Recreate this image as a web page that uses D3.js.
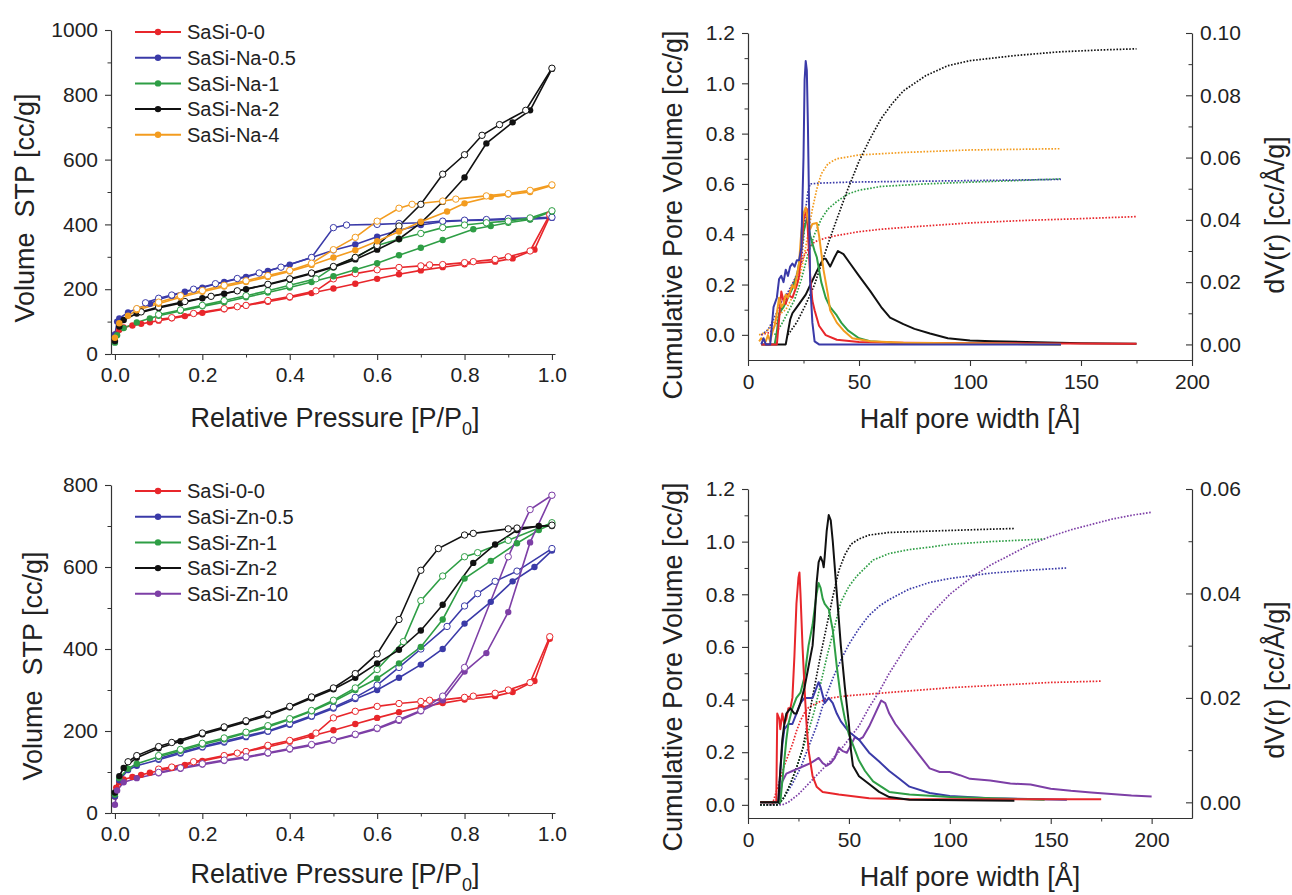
<!DOCTYPE html>
<html>
<head>
<meta charset="utf-8">
<script src="https://cdn.jsdelivr.net/npm/d3@7"></script>
<style>
  body { margin: 0; background: #fff; }
  svg { display: block; }
  text { font-family: Arial, "Liberation Sans", sans-serif; fill: #222; }
</style>
</head>
<body>
<svg id="chart" width="1292" height="895"></svg>
<script>
// ---------------------------------------------------------------------------
// Data
// ---------------------------------------------------------------------------
const naNames = ["SaSi-0-0", "SaSi-Na-0.5", "SaSi-Na-1", "SaSi-Na-2", "SaSi-Na-4"];
const znNames = ["SaSi-0-0", "SaSi-Zn-0.5", "SaSi-Zn-1", "SaSi-Zn-2", "SaSi-Zn-10"];

// isotherms: [P/P0, V (cc/g)], adsorption = filled, desorption = open
const ref00Ads = [[0,40],[0.003,62],[0.01,75],[0.02,82],[0.04,88],[0.06,93],[0.08,98],[0.1,103],[0.13,110],[0.16,117],[0.2,127],[0.25,138],[0.3,150],[0.35,161],[0.4,174],[0.45,188],[0.5,202],[0.55,217],[0.6,232],[0.65,246],[0.7,258],[0.75,268],[0.8,277],[0.87,285],[0.91,295],[0.96,322],[0.995,425]];
const ref00Des = [[0.995,430],[0.95,318],[0.9,300],[0.87,292],[0.82,285],[0.8,282],[0.75,276],[0.72,275],[0.7,272],[0.65,267],[0.6,260],[0.55,248],[0.5,232],[0.46,195],[0.4,177],[0.35,165],[0.3,150],[0.28,146],[0.25,140],[0.18,125],[0.13,112],[0.1,107]];

const na05Ads = [[0,60],[0.005,100],[0.01,110],[0.03,128],[0.05,140],[0.08,155],[0.1,168],[0.13,180],[0.16,192],[0.2,205],[0.25,222],[0.3,238],[0.35,256],[0.4,276],[0.45,298],[0.5,320],[0.55,338],[0.6,362],[0.65,382],[0.7,398],[0.75,408],[0.8,412],[0.85,413],[0.9,415],[0.95,416],[1.0,420]];
const na05Des = [[1.0,422],[0.9,418],[0.85,415],[0.8,413],[0.75,410],[0.7,405],[0.65,403],[0.6,400],[0.53,398],[0.5,390],[0.45,298],[0.38,268],[0.33,250],[0.28,233],[0.23,217],[0.18,200],[0.13,182],[0.1,172],[0.07,158]];

const na1Ads = [[0,35],[0.005,58],[0.02,80],[0.05,97],[0.08,110],[0.1,118],[0.15,133],[0.2,147],[0.25,160],[0.3,175],[0.35,190],[0.4,205],[0.45,222],[0.5,240],[0.55,260],[0.6,280],[0.65,305],[0.7,328],[0.75,352],[0.82,385],[0.86,395],[0.9,405],[0.95,415],[1.0,440]];
const na1Des = [[1.0,442],[0.95,420],[0.9,410],[0.85,405],[0.8,398],[0.75,390],[0.7,372],[0.65,355],[0.6,335],[0.55,298],[0.5,268],[0.46,232],[0.4,212],[0.35,195],[0.3,180],[0.25,165],[0.2,150],[0.15,136],[0.1,122]];

const na2Ads = [[0,40],[0.01,85],[0.02,105],[0.05,125],[0.1,142],[0.15,157],[0.2,172],[0.25,186],[0.3,200],[0.35,214],[0.4,230],[0.45,248],[0.5,268],[0.55,292],[0.6,322],[0.65,355],[0.7,405],[0.75,470],[0.8,545],[0.85,650],[0.91,715],[0.95,752],[1.0,880]];
const na2Des = [[1.0,882],[0.94,752],[0.88,708],[0.84,675],[0.8,615],[0.75,555],[0.7,462],[0.65,395],[0.6,335],[0.55,298],[0.5,270],[0.45,250],[0.4,232],[0.35,215],[0.28,195],[0.22,178],[0.16,162],[0.1,145],[0.06,130]];

const na4Ads = [[0,50],[0.01,95],[0.03,118],[0.05,135],[0.1,155],[0.15,175],[0.2,192],[0.25,208],[0.3,222],[0.35,238],[0.4,255],[0.45,275],[0.5,298],[0.55,320],[0.6,348],[0.65,378],[0.7,408],[0.76,440],[0.8,465],[0.86,485],[0.9,492],[0.95,500],[1.0,520]];
const na4Des = [[1.0,522],[0.95,505],[0.9,495],[0.85,488],[0.78,478],[0.75,472],[0.68,462],[0.65,450],[0.6,410],[0.55,360],[0.5,322],[0.45,280],[0.4,258],[0.35,242],[0.3,226],[0.25,212],[0.2,196],[0.15,180],[0.1,160],[0.05,140]];

const zn05Ads = [[0,40],[0.01,80],[0.03,105],[0.05,115],[0.1,130],[0.15,145],[0.2,160],[0.25,172],[0.3,185],[0.35,198],[0.4,215],[0.45,235],[0.5,255],[0.55,278],[0.6,300],[0.65,330],[0.7,362],[0.75,400],[0.8,462],[0.86,515],[0.91,565],[0.96,600],[1.0,640]];
const zn05Des = [[1.0,645],[0.92,590],[0.87,565],[0.83,535],[0.8,505],[0.76,455],[0.7,400],[0.65,355],[0.6,312],[0.55,282],[0.5,258],[0.45,237],[0.4,218],[0.35,200],[0.3,188],[0.25,175],[0.2,162],[0.15,148],[0.1,133]];

const zn1Ads = [[0,45],[0.01,85],[0.03,108],[0.05,120],[0.1,137],[0.15,152],[0.2,167],[0.25,180],[0.3,195],[0.35,210],[0.4,228],[0.45,248],[0.5,272],[0.55,300],[0.6,328],[0.65,365],[0.7,405],[0.75,472],[0.8,572],[0.86,615],[0.92,658],[0.97,690],[1.0,705]];
const zn1Des = [[1.0,708],[0.9,665],[0.83,635],[0.8,625],[0.75,578],[0.7,518],[0.66,418],[0.6,350],[0.55,305],[0.5,275],[0.45,250],[0.4,230],[0.35,213],[0.3,197],[0.25,183],[0.2,170],[0.15,155],[0.1,140]];

const zn2Ads = [[0,50],[0.01,90],[0.02,110],[0.05,135],[0.1,158],[0.15,175],[0.2,192],[0.25,207],[0.3,222],[0.35,238],[0.4,258],[0.45,280],[0.5,302],[0.55,330],[0.6,365],[0.65,398],[0.7,445],[0.75,508],[0.82,610],[0.87,655],[0.92,690],[0.97,700],[1.0,700]];
const zn2Des = [[1.0,702],[0.92,695],[0.9,693],[0.82,682],[0.8,678],[0.74,645],[0.7,592],[0.65,472],[0.6,388],[0.55,340],[0.5,305],[0.45,283],[0.4,260],[0.35,241],[0.3,225],[0.25,210],[0.2,195],[0.13,172],[0.1,162],[0.05,140],[0.03,125]];

const zn10Ads = [[0,20],[0.005,55],[0.02,75],[0.05,85],[0.1,97],[0.15,108],[0.2,118],[0.25,127],[0.3,135],[0.35,145],[0.4,155],[0.45,165],[0.5,177],[0.55,190],[0.6,205],[0.65,225],[0.7,248],[0.75,275],[0.8,345],[0.85,390],[0.9,490],[0.95,660],[1.0,775]];
const zn10Des = [[1.0,775],[0.95,740],[0.9,625],[0.8,355],[0.75,285],[0.7,250],[0.65,228],[0.6,207],[0.55,192],[0.5,178],[0.45,167],[0.4,157],[0.35,147],[0.3,137],[0.25,129],[0.2,120],[0.15,110],[0.1,99]];

// pore size distributions: [half pore width (Å), value]
// cumulative volume (cc/g, left axis, dotted)
const naRedCum = [[6,0],[10,0.01],[13,0.05],[15,0.1],[18,0.16],[20,0.2],[23,0.26],[25,0.31],[27,0.34],[30,0.37],[35,0.385],[40,0.395],[50,0.41],[60,0.42],[75,0.43],[100,0.445],[125,0.455],[150,0.462],[175,0.47]];
const naBlueCum = [[6,0],[9,0.02],[12,0.07],[15,0.13],[18,0.17],[21,0.22],[24,0.29],[25,0.38],[26,0.5],[27,0.57],[28,0.6],[32,0.603],[45,0.607],[70,0.61],[100,0.613],[141,0.618]];
const naGreenCum = [[12,0],[15,0.04],[18,0.09],[21,0.14],[24,0.22],[27,0.32],[30,0.4],[33,0.46],[36,0.5],[40,0.53],[45,0.56],[50,0.575],[60,0.59],[80,0.6],[100,0.607],[120,0.613],[141,0.62]];
const naBlackCum = [[18,0],[22,0.05],[26,0.12],[30,0.2],[33,0.28],[36,0.36],[40,0.46],[45,0.58],[50,0.69],[55,0.78],[60,0.86],[65,0.92],[70,0.97],[80,1.03],[90,1.07],[100,1.09],[120,1.11],[140,1.125],[160,1.133],[175,1.137]];
const naOrangeCum = [[5,0],[8,0.01],[11,0.04],[14,0.08],[17,0.1],[20,0.15],[23,0.22],[25,0.3],[27,0.4],[29,0.5],[31,0.58],[33,0.64],[36,0.68],[40,0.7],[50,0.715],[70,0.725],[100,0.735],[141,0.74]];

// dV(r) (cc/Å/g, right axis, solid)
const naRedDv = [[6,0],[13,0],[14,0.008],[15,0.017],[16,0.014],[17,0.013],[18,0.016],[20,0.015],[22,0.019],[23,0.022],[24,0.03],[25,0.04],[26.5,0.0435],[27,0.036],[28,0.022],[29,0.014],[30,0.011],[32,0.006],[35,0.003],[40,0.0015],[50,0.0008],[70,0.0005],[100,0.0004],[140,0.0003],[175,0.0002]];
const naBlueDv = [[6,0],[7,0.002],[8,0],[10,0],[11,0.008],[11.5,0.012],[13,0.015],[14,0.021],[15,0.022],[16,0.02],[17,0.024],[18,0.022],[19,0.025],[20,0.026],[21,0.025],[22,0.027],[23,0.027],[24,0.031],[25,0.06],[25.5,0.085],[26,0.091],[26.5,0.088],[27,0.07],[27.5,0.045],[28,0.02],[29,0.007],[30,0.001],[32,0],[141,0]];
const naGreenDv = [[12,0],[13,0.004],[14,0.01],[16,0.012],[18,0.015],[20,0.018],[22,0.022],[24,0.03],[25,0.036],[26.5,0.0405],[27,0.039],[28,0.035],[30,0.03],[31,0.028],[33,0.02],[35,0.015],[37,0.012],[40,0.0093],[42,0.007],[45,0.0045],[50,0.002],[55,0.001],[65,0.0005],[141,0]];
const naOrangeDv = [[5,0.001],[6,0.002],[8,0.001],[9,0.003],[10,0.001],[11,0.004],[12,0.006],[13,0.01],[14,0.015],[15,0.012],[16,0.013],[17,0.016],[18,0.015],[19,0.017],[20,0.019],[21,0.018],[22,0.022],[23,0.026],[24,0.036],[25,0.042],[26,0.044],[27,0.04],[28,0.037],[29,0.0387],[31,0.039],[32,0.035],[34,0.024],[36,0.016],[37,0.011],[40,0.007],[43,0.0045],[47,0.002],[55,0.001],[70,0.0005],[141,0]];
const naBlackDv = [[6,0],[17,0],[18,0.004],[19,0.008],[20,0.01],[22,0.012],[24,0.014],[26,0.016],[28,0.019],[30,0.022],[32,0.025],[34,0.0275],[35,0.0275],[37,0.025],[39,0.028],[40.5,0.03],[43,0.029],[46,0.026],[50,0.022],[55,0.0172],[60,0.012],[64,0.0086],[70,0.0065],[75,0.005],[82,0.0035],[90,0.002],[100,0.0013],[110,0.001],[130,0.0007],[150,0.0004],[175,0.0002]];

const znRedCum = [[6,0],[12,0],[14,0.05],[16,0.1],[18,0.15],[20,0.19],[22,0.23],[24,0.28],[26,0.32],[28,0.35],[30,0.37],[35,0.39],[40,0.405],[50,0.415],[75,0.43],[100,0.445],[125,0.455],[150,0.465],[175,0.47]];
const znBlueCum = [[6,0],[15,0],[18,0.03],[22,0.08],[26,0.14],[30,0.22],[34,0.3],[38,0.4],[42,0.48],[46,0.55],[50,0.61],[55,0.67],[60,0.72],[65,0.755],[70,0.78],[80,0.82],[90,0.845],[100,0.86],[120,0.88],[140,0.892],[158,0.9]];
const znGreenCum = [[6,0],[15,0],[18,0.03],[21,0.08],[24,0.14],[27,0.21],[30,0.28],[33,0.36],[36,0.46],[39,0.56],[42,0.65],[46,0.77],[50,0.83],[54,0.87],[58,0.9],[62,0.93],[70,0.955],[80,0.97],[91,0.98],[100,0.99],[120,1.0],[147,1.01]];
const znBlackCum = [[6,0],[15,0],[18,0.03],[21,0.08],[24,0.14],[27,0.21],[30,0.33],[33,0.45],[36,0.57],[39,0.68],[42,0.79],[45,0.89],[48,0.95],[51,0.99],[55,1.01],[60,1.025],[70,1.035],[90,1.04],[110,1.045],[132,1.05]];
const znPurpleCum = [[6,0],[17,0],[20,0.01],[25,0.04],[30,0.08],[35,0.12],[40,0.16],[45,0.2],[50,0.25],[55,0.3],[60,0.37],[65,0.43],[70,0.5],[75,0.56],[80,0.62],[90,0.72],[100,0.8],[110,0.86],[120,0.91],[130,0.95],[140,0.99],[150,1.02],[160,1.045],[170,1.065],[180,1.085],[190,1.1],[200,1.112]];

const znRedDv = [[6,0],[14,0],[14.5,0.017],[15.5,0.016],[16,0.014],[17,0.017],[18,0.015],[19,0.016],[20,0.018],[21,0.018],[22,0.02],[23,0.028],[24,0.038],[25,0.043],[25.5,0.044],[26,0.04],[27,0.03],[28,0.022],[29,0.015],[30,0.01],[32,0.005],[34,0.003],[37,0.002],[45,0.0015],[60,0.0008],[80,0.0006],[175,0.0006]];
const znBlueDv = [[6,0],[15,0],[16,0.006],[17,0.011],[18,0.014],[20,0.015],[22,0.015],[24,0.017],[26,0.019],[28,0.02],[30,0.02],[32,0.02],[34,0.022],[35,0.023],[36,0.022],[38,0.019],[40,0.02],[42,0.019],[44,0.017],[46,0.0155],[50,0.0135],[55,0.012],[60,0.0095],[65,0.0078],[70,0.006],[75,0.0045],[80,0.003],[90,0.0018],[100,0.0012],[120,0.0008],[158,0.0005]];
const znGreenDv = [[6,0],[16,0],[17,0.004],[18,0.008],[19,0.012],[20,0.015],[22,0.018],[24,0.02],[26,0.021],[28,0.024],[30,0.03],[32,0.034],[34,0.04],[35,0.042],[36,0.041],[37,0.039],[38,0.038],[40,0.037],[42,0.033],[44,0.026],[46,0.02],[48,0.016],[50,0.013],[52,0.011],[55,0.008],[58,0.006],[62,0.004],[66,0.003],[70,0.002],[80,0.0015],[100,0.001],[147,0.0005]];
const znBlackDv = [[6,0],[15,0],[16,0.006],[17,0.012],[18,0.015],[19,0.017],[21,0.018],[23,0.017],[24,0.017],[26,0.019],[28,0.022],[30,0.026],[32,0.03],[33,0.035],[34,0.042],[35,0.046],[36,0.047],[37,0.046],[37.5,0.045],[38,0.047],[39,0.052],[40,0.055],[41,0.054],[42,0.05],[44,0.04],[46,0.03],[48,0.022],[50,0.015],[51,0.01],[52,0.007],[55,0.005],[60,0.0035],[65,0.002],[70,0.001],[80,0.0005],[132,0.0003]];
const znPurpleDv = [[6,0],[15,0],[17,0.004],[19,0.0055],[22,0.006],[25,0.0065],[28,0.007],[31,0.0075],[33,0.008],[35,0.0085],[37,0.0075],[39,0.007],[41,0.0075],[43,0.0085],[45,0.0105],[47,0.0098],[49,0.0095],[51,0.011],[53,0.0125],[55,0.012],[57,0.0125],[60,0.0145],[63,0.017],[66,0.0195],[68,0.019],[70,0.017],[73,0.015],[76,0.0135],[80,0.0115],[85,0.009],[90,0.0065],[95,0.0058],[100,0.0058],[105,0.0052],[110,0.0045],[120,0.0042],[130,0.0036],[140,0.0034],[150,0.0026],[160,0.0022],[170,0.0019],[180,0.0016],[190,0.0013],[200,0.0011]];

// tick values
const isoXTicks = [0, 0.2, 0.4, 0.6, 0.8, 1.0];
const isoXMinor = [0.1, 0.3, 0.5, 0.7, 0.9];
const psdXTicks = [0, 50, 100, 150, 200];
const psdXMinor = [25, 75, 125, 175];
const cumTicks = [0, 0.2, 0.4, 0.6, 0.8, 1.0, 1.2];
const cumMinor = [0.1, 0.3, 0.5, 0.7, 0.9, 1.1];

// ---------------------------------------------------------------------------
// Styles
// ---------------------------------------------------------------------------
const RED = "#e8262b", BLUE = "#3a3aa8", GREEN = "#2e9e45", BLACK = "#111111",
      ORANGE = "#f39c1f", PURPLE = "#7d3fa6";
const AXIS = "#333";

const svg = d3.select("#chart");

function drawAxis(g, axis, minorAxis) {
    if (minorAxis) {
        const m = g.append("g").call(minorAxis);
        m.select(".domain").remove();
        m.selectAll("line").attr("stroke", AXIS);
    }
    const a = g.append("g").call(axis);
    a.select(".domain").attr("stroke", AXIS).attr("stroke-width", 1.2);
    a.selectAll("line").attr("stroke", AXIS).attr("stroke-width", 1.1);
    a.selectAll("text").attr("font-size", 21).attr("fill", "#222")
        .attr("font-family", "Arial, 'Liberation Sans', sans-serif");
    return a;
}

function rotatedTitle(x, y, txt) {
    svg.append("text")
        .attr("transform", `translate(${x},${y}) rotate(-90)`)
        .attr("text-anchor", "middle")
        .attr("font-size", 27)
        .text(txt);
}

function pressureTitle(x, y) {
    const t = svg.append("text")
        .attr("x", x).attr("y", y)
        .attr("text-anchor", "middle")
        .attr("font-size", 27);
    t.append("tspan").text("Relative Pressure [P/P");
    t.append("tspan").attr("font-size", 18).attr("dy", 8).text("0");
    t.append("tspan").attr("dy", -8).text("]");
}

// ---------------------------------------------------------------------------
// Isotherm panel
// ---------------------------------------------------------------------------
function isoPanel(o) {
    const x = d3.scaleLinear().domain([-0.009, 1.007]).range([111, 555]);
    const y = d3.scaleLinear().domain([0, o.ymax]).range([o.yBot, o.yTop]);

    const yMajor = d3.range(0, o.ymax + 1, 200);
    const yMinor = d3.range(100, o.ymax, 200);

    drawAxis(svg.append("g").attr("transform", `translate(0,${o.yBot})`),
        d3.axisBottom(x).tickValues(isoXTicks).tickFormat(d3.format(".1f"))
            .tickSizeInner(6).tickSizeOuter(0).tickPadding(7),
        d3.axisBottom(x).tickValues(isoXMinor).tickFormat("").tickSizeInner(3.5).tickSizeOuter(0));
    drawAxis(svg.append("g").attr("transform", `translate(111,0)`),
        d3.axisLeft(y).tickValues(yMajor).tickFormat(d3.format("d"))
            .tickSizeInner(6).tickSizeOuter(0).tickPadding(7),
        d3.axisLeft(y).tickValues(yMinor).tickFormat("").tickSizeInner(3.5).tickSizeOuter(0));

    const line = d3.line().x(d => x(d[0])).y(d => y(d[1]));
    const plot = svg.append("g");

    o.series.forEach(s => {
        plot.append("path").datum(s.ads).attr("d", line)
            .attr("fill", "none").attr("stroke", s.color).attr("stroke-width", 1.6);
        plot.append("path").datum(s.des).attr("d", line)
            .attr("fill", "none").attr("stroke", s.color).attr("stroke-width", 1.6);
    });
    o.series.forEach(s => {
        plot.selectAll(null).data(s.ads).enter().append("circle")
            .attr("cx", d => x(d[0])).attr("cy", d => y(d[1])).attr("r", 3.2)
            .attr("fill", s.color);
        plot.selectAll(null).data(s.des).enter().append("circle")
            .attr("cx", d => x(d[0])).attr("cy", d => y(d[1])).attr("r", 3.2)
            .attr("fill", "#fff").attr("stroke", s.color).attr("stroke-width", 1);
    });

    // legend
    const lg = svg.append("g");
    o.series.forEach((s, i) => {
        const ly = o.legendY + i * 25.7;
        lg.append("line").attr("x1", 135).attr("x2", 181).attr("y1", ly).attr("y2", ly)
            .attr("stroke", s.color).attr("stroke-width", 2);
        lg.append("circle").attr("cx", 158).attr("cy", ly).attr("r", 3.2).attr("fill", s.color);
        lg.append("text").attr("x", 187).attr("y", ly).attr("dy", "0.36em")
            .attr("font-size", 20).text(s.name);
    });

    pressureTitle(335, o.xTitleY);
    rotatedTitle(o.yTitleX, o.yTitleMid, "Volume\u00a0\u00a0STP [cc/g]");
}

// ---------------------------------------------------------------------------
// Pore size distribution panel
// ---------------------------------------------------------------------------
function psdPanel(o) {
    const x = d3.scaleLinear().domain([0, o.xmax]).range([748, 1192]);
    const yL = d3.scaleLinear().domain([o.leftMin, 1.2]).range([o.yBot, o.yTop]);
    const yR = d3.scaleLinear().domain([o.rightMin, o.rightMax]).range([o.yBot, o.yTop]);

    drawAxis(svg.append("g").attr("transform", `translate(0,${o.yBot})`),
        d3.axisBottom(x).tickValues(psdXTicks).tickFormat(d3.format("d"))
            .tickSizeInner(6).tickSizeOuter(0).tickPadding(8),
        d3.axisBottom(x).tickValues(psdXMinor).tickFormat("").tickSizeInner(3.5).tickSizeOuter(0));
    drawAxis(svg.append("g").attr("transform", `translate(748,0)`),
        d3.axisLeft(yL).tickValues(cumTicks).tickFormat(d3.format(".1f"))
            .tickSizeInner(6).tickSizeOuter(0).tickPadding(7),
        d3.axisLeft(yL).tickValues(cumMinor).tickFormat("").tickSizeInner(3.5).tickSizeOuter(0));
    drawAxis(svg.append("g").attr("transform", `translate(1192,0)`),
        d3.axisRight(yR).tickValues(o.rightTicks).tickFormat(d3.format(".2f"))
            .tickSizeInner(-6).tickSizeOuter(0).tickPadding(8),
        d3.axisRight(yR).tickValues(o.rightMinor).tickFormat("").tickSizeInner(-3.5).tickSizeOuter(0));

    const lineL = d3.line().x(d => x(d[0])).y(d => yL(d[1]));
    const lineR = d3.line().x(d => x(d[0])).y(d => yR(d[1]));
    const plot = svg.append("g");

    o.cum.forEach(s => {
        plot.append("path").datum(s.data).attr("d", lineL)
            .attr("fill", "none").attr("stroke", s.color).attr("stroke-width", 1.7)
            .attr("stroke-dasharray", "1.6,1.6");
    });
    o.dv.forEach(s => {
        plot.append("path").datum(s.data).attr("d", lineR)
            .attr("fill", "none").attr("stroke", s.color).attr("stroke-width", 2)
            .attr("stroke-linejoin", "round");
    });

    svg.append("text").attr("x", 970).attr("y", o.xTitleY)
        .attr("text-anchor", "middle").attr("font-size", 27)
        .text("Half pore width [\u00c5]");
    rotatedTitle(682, o.leftMid, "Cumulative Pore Volume [cc/g]");
    rotatedTitle(1284, o.rightMid, "dV(r) [cc/\u00c5/g]");
}

// ---------------------------------------------------------------------------
// Build the four panels
// ---------------------------------------------------------------------------
isoPanel({
    ymax: 1000, yTop: 30, yBot: 354, legendY: 32, xTitleY: 427, yTitleX: 34, yTitleMid: 208,
    series: [
        { name: naNames[0], color: RED, ads: ref00Ads, des: ref00Des },
        { name: naNames[1], color: BLUE, ads: na05Ads, des: na05Des },
        { name: naNames[2], color: GREEN, ads: na1Ads, des: na1Des },
        { name: naNames[3], color: BLACK, ads: na2Ads, des: na2Des },
        { name: naNames[4], color: ORANGE, ads: na4Ads, des: na4Des }
    ]
});

isoPanel({
    ymax: 800, yTop: 485, yBot: 813, legendY: 491, xTitleY: 883, yTitleX: 42, yTitleMid: 666,
    series: [
        { name: znNames[0], color: RED, ads: ref00Ads, des: ref00Des },
        { name: znNames[1], color: BLUE, ads: zn05Ads, des: zn05Des },
        { name: znNames[2], color: GREEN, ads: zn1Ads, des: zn1Des },
        { name: znNames[3], color: BLACK, ads: zn2Ads, des: zn2Des },
        { name: znNames[4], color: PURPLE, ads: zn10Ads, des: zn10Des }
    ]
});

psdPanel({
    xmax: 200, yTop: 33, yBot: 360, leftMid: 215, rightMid: 215, xTitleY: 428,
    leftMin: -0.1, rightMin: -0.005, rightMax: 0.1,
    rightTicks: [0, 0.02, 0.04, 0.06, 0.08, 0.10],
    rightMinor: [0.01, 0.03, 0.05, 0.07, 0.09],
    cum: [
        { color: RED, data: naRedCum },
        { color: GREEN, data: naGreenCum },
        { color: BLUE, data: naBlueCum },
        { color: ORANGE, data: naOrangeCum },
        { color: BLACK, data: naBlackCum }
    ],
    dv: [
        { color: BLACK, data: naBlackDv },
        { color: GREEN, data: naGreenDv },
        { color: RED, data: naRedDv },
        { color: ORANGE, data: naOrangeDv },
        { color: BLUE, data: naBlueDv }
    ]
});

psdPanel({
    xmax: 220, yTop: 489, yBot: 818, leftMid: 667, rightMid: 680, xTitleY: 886,
    leftMin: -0.05, rightMin: -0.003, rightMax: 0.06,
    rightTicks: [0, 0.02, 0.04, 0.06],
    rightMinor: [0.01, 0.03, 0.05],
    cum: [
        { color: RED, data: znRedCum },
        { color: PURPLE, data: znPurpleCum },
        { color: BLUE, data: znBlueCum },
        { color: GREEN, data: znGreenCum },
        { color: BLACK, data: znBlackCum }
    ],
    dv: [
        { color: PURPLE, data: znPurpleDv },
        { color: BLUE, data: znBlueDv },
        { color: GREEN, data: znGreenDv },
        { color: RED, data: znRedDv },
        { color: BLACK, data: znBlackDv }
    ]
});
</script>
</body>
</html>
